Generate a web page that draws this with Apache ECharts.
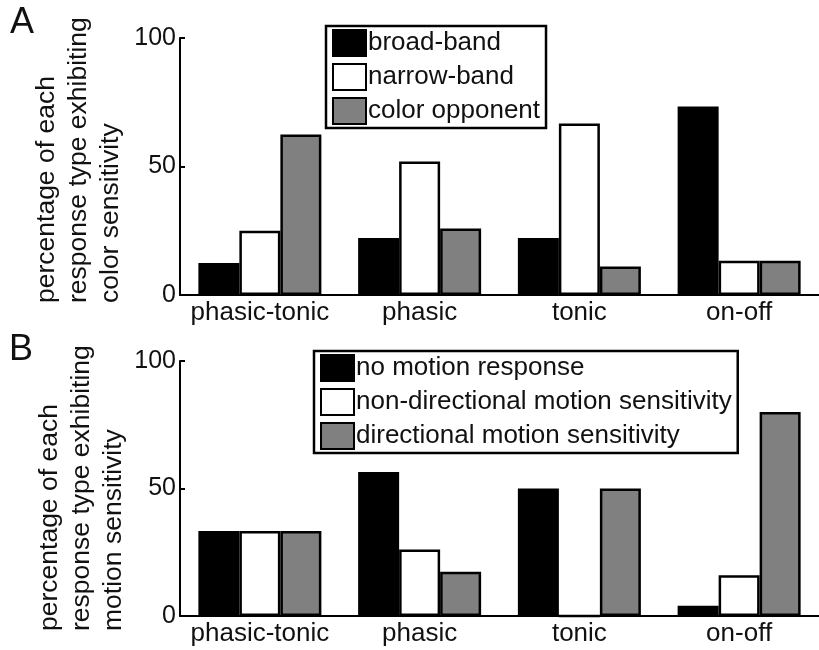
<!DOCTYPE html>
<html>
<head>
<meta charset="utf-8">
<script src="https://cdn.jsdelivr.net/npm/echarts@6/dist/echarts.min.js"></script>
<style>
  html, body { margin: 0; padding: 0; background: #fff; }
  #chart { width: 819px; height: 650px; }
</style>
</head>
<body>
<div id="chart"></div>
<script>
// response types (x categories, same for both panels)
var categories = ['phasic-tonic', 'phasic', 'tonic', 'on-off'];
var yTicks = [0, 50, 100];

// panel A - colour sensitivity (%)
var colorNames = ['broad-band', 'narrow-band', 'color opponent'];
var broadBand = [12.5, 22.2, 22.2, 73.3];
var narrowBand = [25.0, 51.9, 66.7, 13.3];
var colorOpponent = [62.5, 25.9, 11.1, 13.3];

// panel B - motion sensitivity (%)
var motionNames = ['no motion response', 'non-directional motion sensitivity', 'directional motion sensitivity'];
var noMotion = [33.3, 56.5, 50.0, 4.0];
var nonDirectional = [33.3, 26.1, 0, 16.0];
var directional = [33.3, 17.4, 50.0, 80.0];

var fills = ['#000000', '#ffffff', '#808080'];
var font = 'Liberation Sans, Arial, sans-serif';

var chart = echarts.init(document.getElementById('chart'), null, { renderer: 'canvas' });

function xAxisOf(grid) {
    return {
        type: 'category',
        gridIndex: grid,
        data: categories,
        axisLine: { lineStyle: { color: '#000', width: 2 } },
        axisTick: { show: false },
        axisLabel: { interval: 0, color: '#111', fontSize: 26, fontFamily: font, margin: 5 }
    };
}

function yAxisOf(grid) {
    return {
        type: 'value',
        gridIndex: grid,
        min: yTicks[0],
        max: yTicks[yTicks.length - 1],
        interval: yTicks[1] - yTicks[0],
        axisLine: { show: true, lineStyle: { color: '#000', width: 2 } },
        axisTick: { show: true, inside: true, length: 5, lineStyle: { color: '#000', width: 2 } },
        axisLabel: { color: '#111', fontSize: 25, fontFamily: font, margin: 4 },
        splitLine: { show: false }
    };
}

function barOf(name, values, idx, fill) {
    return {
        name: name,
        type: 'bar',
        xAxisIndex: idx,
        yAxisIndex: idx,
        data: values,
        barWidth: 41,
        barGap: '0%',
        itemStyle: { color: fill, borderColor: '#000', borderWidth: 2.5 }
    };
}

function legendOf(names, left, top) {
    return {
        data: names,
        orient: 'vertical',
        left: left,
        top: top,
        itemWidth: 33,
        itemHeight: 26,
        itemGap: 6,
        padding: [3, 6, 3, 6],
        borderColor: '#000',
        borderWidth: 2.5,
        icon: 'rect',
        selectedMode: false,
        textStyle: { color: '#111', fontSize: 26, fontFamily: font, padding: [0, 0, 0, -3] }
    };
}

// rotated multi-line axis titles, left aligned like the original
function titleText(lines, x, y) {
    return {
        type: 'text',
        x: x,
        y: y,
        rotation: Math.PI / 2,
        style: {
            text: lines.join('\n'),
            fill: '#111',
            font: '26.5px ' + font,
            lineHeight: 32,
            align: 'left',
            verticalAlign: 'top'
        }
    };
}

chart.setOption({
    backgroundColor: '#fff',
    animation: false,
    grid: [
        { left: 180, top: 38, width: 646, height: 257 },
        { left: 180, top: 361, width: 646, height: 255 }
    ],
    xAxis: [xAxisOf(0), xAxisOf(1)],
    yAxis: [yAxisOf(0), yAxisOf(1)],
    legend: [
        legendOf(colorNames, 326, 26),
        legendOf(motionNames, 314, 351)
    ],
    series: [
        barOf(colorNames[0], broadBand, 0, fills[0]),
        barOf(colorNames[1], narrowBand, 0, fills[1]),
        barOf(colorNames[2], colorOpponent, 0, fills[2]),
        barOf(motionNames[0], noMotion, 1, fills[0]),
        barOf(motionNames[1], nonDirectional, 1, fills[1]),
        barOf(motionNames[2], directional, 1, fills[2])
    ],
    graphic: [
        { type: 'text', left: 10, top: 5, style: { text: 'A', fill: '#111', font: '36px ' + font } },
        { type: 'text', left: 9, top: 332, style: { text: 'B', fill: '#111', font: '36px ' + font } },
        titleText(['percentage of each', 'response type exhibiting', 'color sensitivity'], 31, 303),
        titleText(['percentage of each', 'response type exhibiting', 'motion sensitivity'], 34, 631)
    ]
});
</script>
</body>
</html>
